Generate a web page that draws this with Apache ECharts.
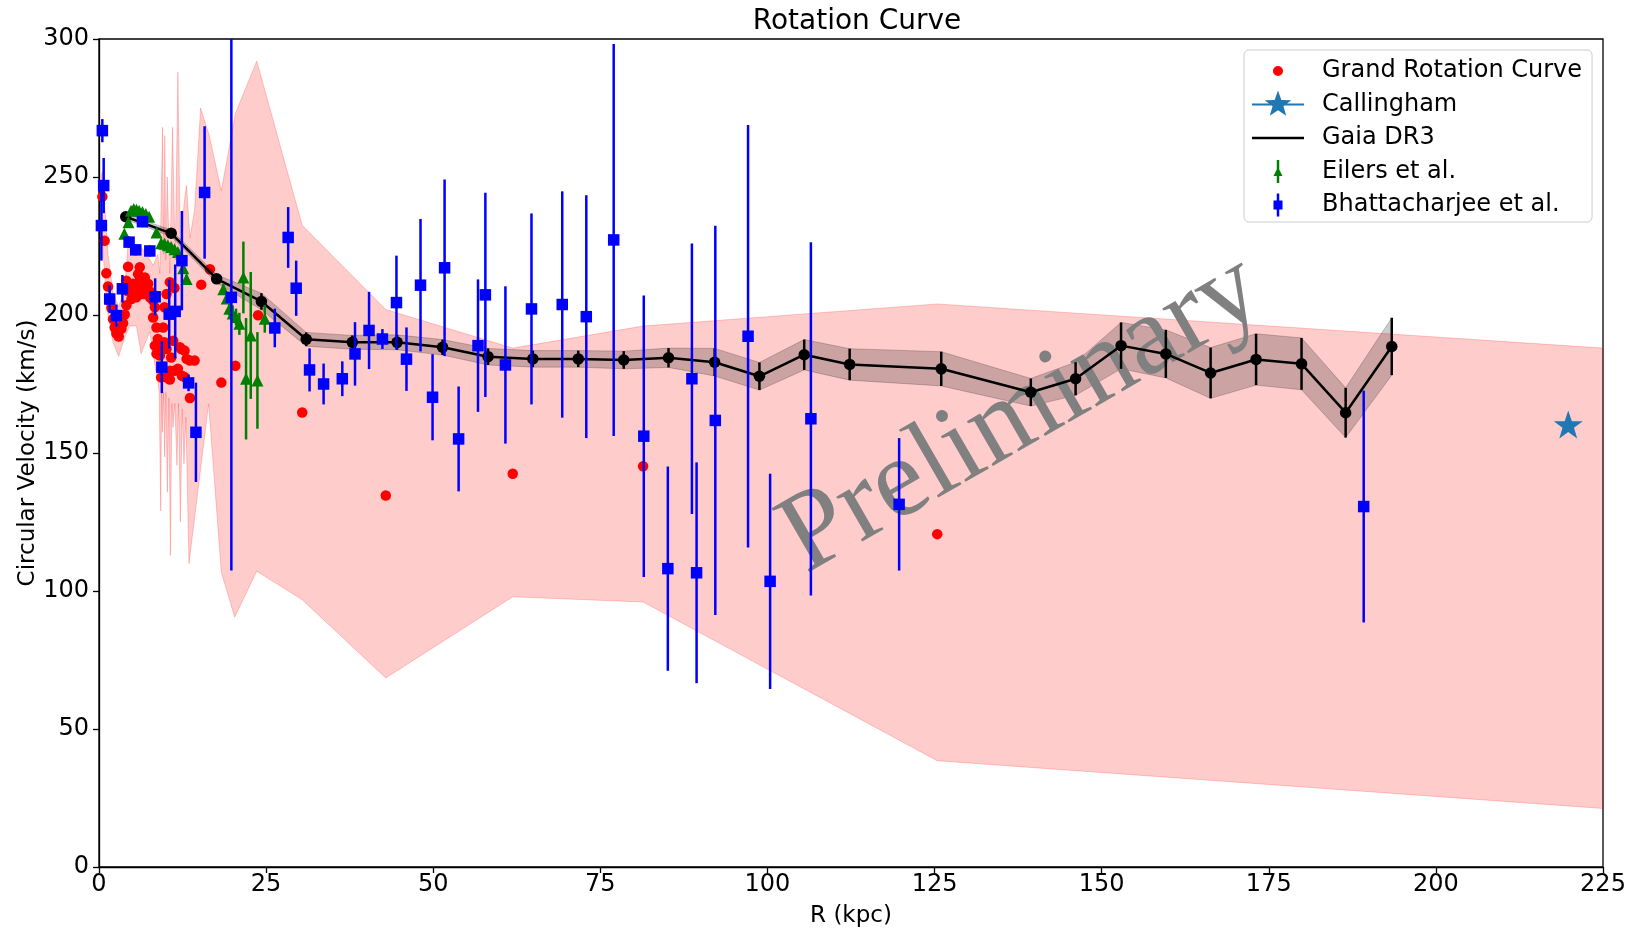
<!DOCTYPE html>
<html><head><meta charset="utf-8">
<script src="https://cdn.jsdelivr.net/npm/echarts/dist/echarts.min.js"></script>
<style>html,body{margin:0;padding:0;background:#fff}#c{width:1636px;height:928px}</style>
</head><body><div id="c"></div>
<script>
// ---------- data ----------
const grcR = [0.5,0.85,1.1,1.35,1.6,1.85,2.1,2.35,2.6,2.95,3.35,3.6,3.85,4.1,4.1,4.2,4.35,4.6,4.85,5.1,5.35,5.6,5.85,6.1,6.1,6.35,6.6,6.85,7.1,7.35,7.6,7.85,8.1,8.1,8.35,8.35,8.6,8.6,8.8,9.1,9.1,9.3,9.6,9.8,9.8,10.1,10.1,10.1,10.6,10.6,10.6,10.8,11.1,11.3,11.3,11.8,12.1,12.3,12.4,12.8,12.8,13.1,13.6,13.6,14.3,15.3,16.6,18.3,20.4,23.8,30.4,42.9,61.9,81.4,125.4];
const grcV = [242.9,226.9,215.1,210.3,205.0,202.5,198.5,195.5,193.3,192.2,195.0,197.0,200.2,203.5,212.4,208.8,217.5,208.8,205.8,211.3,208.2,206.4,214.8,217.3,212.4,210.0,207.6,213.6,208.8,211.3,206.4,208.2,205.2,199.1,202.8,188.9,195.5,186.0,191.3,188.3,185.3,177.4,195.5,202.8,190.1,207.6,187.7,177.4,211.9,179.8,176.6,184.6,190.7,209.8,179.8,180.5,188.3,187.7,178.0,187.1,177.5,184.1,183.5,169.9,183.5,211.0,216.6,175.5,181.6,199.9,164.7,134.6,142.5,145.2,120.6];

const grcHiR = [0.3,0.5,0.85,1.35,2.1,2.95,3.85,4.35,5.1,6.1,7.1,8.1,8.8,9.1,9.5,9.7,9.85,10.0,10.2,10.6,11.0,11.4,11.8,12.2,12.7,13.1,13.6,14.3,15.2,16.5,18.3,20.4,23.6,30.4,42.9,61.9,81.4,125.4,225];
const grcHi  = [250,252,240,222,208,203,210,226,222,225,222,218,222,215,268,222,265,220,250,215,268,220,288,218,240,247,228,238,275,265,245,273,292,232.5,202,188,196,204,188];
const grcLoR = [0.3,0.5,0.85,1.35,2.1,2.95,3.85,4.6,5.6,6.3,7.6,8.35,8.8,9.0,9.24,9.36,9.48,9.65,9.83,10.0,10.23,10.45,10.68,10.9,11.07,11.35,11.66,11.9,12.17,12.45,12.71,13.0,13.46,16.4,18.3,20.3,23.6,30.4,42.9,61.9,81.4,125.4,225];
const grcLo  = [228,228,214,200,190,185,192,196,196,186,194,182,176,172,129,172,157.5,172,148.6,172,135.8,170,112.9,168,159.3,168,145.5,168,125,166,146.1,163,109.9,167.8,106.8,90.5,107.2,96.8,68.5,97.9,96,38.5,21.2];

const callR = [219.8];
const callV = [160.3];

const gaiaR = [4.0,10.8,17.6,24.3,31.0,37.9,44.6,51.4,58.2,64.9,71.7,78.5,85.2,92.1,98.8,105.5,112.3,126.0,139.4,146.1,152.9,159.6,166.3,173.1,179.9,186.5,193.4];
const gaiaV = [235.6,229.6,213.1,204.9,191.2,190.1,190.1,188.3,184.9,184.1,184.1,183.7,184.5,182.9,177.8,185.6,182.1,180.5,172.0,176.9,188.9,185.9,179.0,183.9,182.3,164.6,188.6];
const gaiaE = [1.0,1.2,1.5,3.0,2.5,2.5,2.7,2.8,3.0,3.0,3.0,3.2,3.5,5.0,5.0,5.5,5.7,6.2,5.0,6.0,8.4,8.7,9.2,9.3,9.4,9.0,10.4];

const eilR = [3.8,4.4,4.8,5.2,5.6,6.0,6.5,7.0,7.5,8.6,9.3,9.8,10.3,10.8,11.3,11.8,12.6,13.1,18.6,19.1,19.5,20.0,20.5,21.0,21.6,22.0,22.7,23.7,24.8];
const eilV = [229.4,233.6,237.8,238.4,238.1,237.8,237.3,236.6,235.6,229.9,226.0,225.8,225.3,224.6,223.8,222.8,216.9,213.0,209.3,206.0,202.3,200.5,199.3,196.8,213.6,176.9,192.6,176.3,198.6];
const eilE = [1,1,1,1,1,1,1,1,1,1,1,1,1,1,1.2,1.2,1.5,1.5,2,2,2.5,3,3,4,13,22,23,17.5,5];

const bhatR = [0.36,0.5,0.7,1.6,2.6,3.5,4.5,5.5,6.5,7.6,8.4,9.4,10.5,11.4,12.4,13.4,14.5,15.8,19.8,26.3,28.3,29.5,31.5,33.6,36.4,38.3,40.4,42.4,44.5,46.0,48.1,49.9,51.7,53.8,56.7,57.8,60.8,64.7,69.3,72.9,77.0,81.5,85.1,88.7,89.4,92.2,97.1,100.4,106.5,119.7,189.2];
const bhatV = [232.4,266.8,246.9,205.8,199.8,209.5,226.4,223.6,233.8,223.2,206.6,181.1,200.3,201.3,219.7,175.4,157.5,244.4,206.4,195.3,228.1,209.7,180.1,175.0,176.9,185.9,194.4,191.3,204.5,184.0,210.8,170.2,217.1,155.1,188.9,207.3,181.9,202.2,203.8,199.4,227.2,156.1,108.1,176.9,106.6,161.8,192.3,103.5,162.4,131.4,130.6];
const bhatE = [12.7,4.2,10,5,4,5,2,2,2,2,6.7,9.4,12.5,17,18,3,18,24,99,7,11,10,7.8,7.4,6.3,11.5,14,3.6,17,11.5,24,15.6,32,19,24,37,28.5,34.6,41,44,71,51,37,49,40,70.5,76.5,39,64,24,42];

const xTicks = {min: 0, max: 225, step: 25};
const yTicks = {min: 0, max: 300, step: 50};

const titleText = 'Rotation Curve';
const xName = 'R (kpc)';
const yName = 'Circular Velocity (km/s)';
const names = ['Grand Rotation Curve', 'Callingham', 'Gaia DR3', 'Eilers et al.', 'Bhattacharjee et al.'];
const watermark = 'Preliminary';

// ---------- helpers ----------
const FONT = "'DejaVu Sans', sans-serif";
const zip2 = (a, b) => a.map((v, i) => [v, b[i]]);
const zip3 = (a, b, c) => a.map((v, i) => [v, b[i], c[i]]);

const grcPoly = zip2(grcHiR, grcHi).concat(zip2(grcLoR, grcLo).reverse());
const gaiaPoly = gaiaR.map((r, i) => [r, gaiaV[i] + gaiaE[i]])
  .concat(gaiaR.map((r, i) => [r, gaiaV[i] - gaiaE[i]]).reverse());

function polyRender(poly, fill, stroke) {
  return function (params, api) {
    if (params.dataIndex !== 0) return null;
    const pts = poly.map(p => api.coord(p));
    return {type: 'polygon', shape: {points: pts}, style: {fill: fill, stroke: stroke, lineWidth: 1}};
  };
}
function errRender(color, width) {
  return function (params, api) {
    const x = api.value(0), y = api.value(1), e = api.value(2);
    const a = api.coord([x, y + e]), b = api.coord([x, y - e]);
    return {type: 'line', shape: {x1: a[0], y1: a[1], x2: b[0], y2: b[1]},
      style: {stroke: color, lineWidth: width}};
  };
}

const STAR = 'path://M50,0 L61.8,34.5 L97.6,34.5 L68.8,55.9 L79.4,90.5 L50,69.1 L20.6,90.5 L31.2,55.9 L2.4,34.5 L38.2,34.5 Z';
const PAD = 'M0,0L0.1,0L0.1,0.1Z M52,28L51.9,28L51.9,27.9Z ';
const icons = [
  'path://' + PAD + 'M31,14A5,5,0,1,1,21,14A5,5,0,1,1,31,14Z',
  'path://' + PAD + 'M0,13L52,13L52,15L0,15Z M26,0L29.35,9.39L39.31,9.67L31.42,15.76L34.23,25.33L26,19.7L17.77,25.33L20.58,15.76L12.69,9.67L22.65,9.39Z',
  'path://' + PAD + 'M0,12.75L52,12.75L52,15.25L0,15.25Z',
  'path://' + PAD + 'M24.75,2.5L27.25,2.5L27.25,25.5L24.75,25.5Z M21.5,18.5L26,9.5L30.5,18.5Z',
  'path://' + PAD + 'M24.75,2.5L27.25,2.5L27.25,25.5L24.75,25.5Z M21.5,9.5L30.5,9.5L30.5,18.5L21.5,18.5Z'
];

const chart = echarts.init(document.getElementById('c'), null, {renderer: 'canvas'});
const axisCommon = {
  axisLine: {show: true, onZero: false, lineStyle: {color: '#000', width: 1.3}},
  axisTick: {show: true, inside: false, length: 6, lineStyle: {color: '#000', width: 1.3}},
  splitLine: {show: false},
  nameLocation: 'middle',
  nameMoveOverlap: false,
  nameTextStyle: {fontSize: 23, color: '#000', fontFamily: FONT}
};
chart.setOption({
  animation: false,
  backgroundColor: '#fff',
  title: {text: titleText, left: 852, top: 3, textAlign: 'center',
    textStyle: {fontSize: 28, fontWeight: 'normal', color: '#000', fontFamily: FONT}},
  grid: {left: 99, right: 33, top: 39, bottom: 61, show: true, borderColor: '#000', borderWidth: 1.3,
    containLabel: false, outerBoundsMode: 'none'},
  legend: {
    orient: 'vertical', left: 1244, top: 50, padding: [7, 10, 3, 8], itemGap: 5.5,
    itemWidth: 52, itemHeight: 28, backgroundColor: 'rgba(255,255,255,0.8)',
    borderColor: '#cccccc', borderWidth: 1, borderRadius: 5, selectedMode: false,
    itemStyle: {borderWidth: 0, opacity: 1},
    textStyle: {fontSize: 24, color: '#000', fontFamily: FONT, padding: [0, 0, 0, 13]},
    data: names.map((n, i) => ({name: n, icon: icons[i]}))
  },
  xAxis: Object.assign({type: 'value', min: xTicks.min, max: xTicks.max, interval: xTicks.step,
    name: xName, nameGap: 38,
    axisLabel: {fontSize: 24, color: '#000', fontFamily: FONT, margin: 6}}, axisCommon),
  yAxis: Object.assign({type: 'value', min: yTicks.min, max: yTicks.max, interval: yTicks.step,
    name: yName, nameGap: 59,
    axisLabel: {fontSize: 24, color: '#000', fontFamily: FONT, margin: 10}}, axisCommon),
  graphic: {elements: [{
    type: 'text', x: 1022, y: 415, rotation: 30 * Math.PI / 180, z: 4, silent: true,
    style: {text: watermark, fontSize: 113, fontFamily: "'Liberation Serif', serif", fill: '#808080',
      textAlign: 'center', textVerticalAlign: 'middle', align: 'center', verticalAlign: 'middle'}
  }]},
  series: [
    {type: 'custom', name: 'grcBand', z: 1, silent: true, clip: true, data: grcPoly,
      encode: {x: 0, y: 1}, renderItem: polyRender(grcPoly, 'rgba(255,0,0,0.2)', 'rgba(255,0,0,0.2)')},
    {type: 'scatter', name: names[0], z: 2, symbol: 'circle', symbolSize: 10.5,
      itemStyle: {color: '#ff0000', opacity: 1}, data: zip2(grcR, grcV)},
    {type: 'custom', name: 'gaiaBand', z: 3, silent: true, clip: true, data: gaiaPoly,
      encode: {x: 0, y: 1}, renderItem: polyRender(gaiaPoly, 'rgba(0,0,0,0.2)', 'rgba(0,0,0,0.2)')},
    {type: 'custom', name: 'gaiaErr', z: 5, silent: true, clip: true, data: zip3(gaiaR, gaiaV, gaiaE),
      encode: {x: 0, y: 1}, renderItem: errRender('#000', 2.5)},
    {type: 'line', name: names[2], z: 5, symbol: 'circle', symbolSize: 11.5, showSymbol: true,
      itemStyle: {color: '#000', opacity: 1}, lineStyle: {color: '#000', width: 2.5}, data: zip2(gaiaR, gaiaV)},
    {type: 'custom', name: 'eilErr', z: 6, silent: true, clip: true, data: zip3(eilR, eilV, eilE),
      encode: {x: 0, y: 1}, renderItem: errRender('#008000', 2.5)},
    {type: 'scatter', name: names[3], z: 6, symbol: 'triangle', symbolSize: 12,
      itemStyle: {color: '#008000', opacity: 1}, data: zip2(eilR, eilV)},
    {type: 'custom', name: 'bhatErr', z: 7, silent: true, clip: true, data: zip3(bhatR, bhatV, bhatE),
      encode: {x: 0, y: 1}, renderItem: errRender('#0000ff', 2.5)},
    {type: 'scatter', name: names[4], z: 7, symbol: 'rect', symbolSize: 11.5,
      itemStyle: {color: '#0000ff', opacity: 1}, data: zip2(bhatR, bhatV)},
    {type: 'scatter', name: names[1], z: 8, symbol: STAR, symbolSize: [29, 28],
      itemStyle: {color: '#1f77b4', opacity: 1}, data: zip2(callR, callV)}
  ]
});
</script>
</body></html>
